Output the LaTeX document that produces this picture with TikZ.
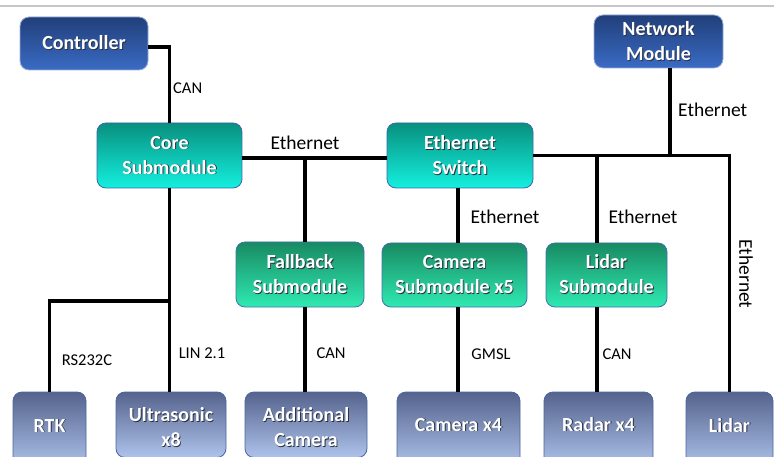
\documentclass[tikz,border=0pt]{standalone}
\usepackage{fontspec}
\setmainfont{Carlito}

% box fills (top / bottom of the vertical gradient) and outlines
\definecolor{ctrlTop}{HTML}{213F7A}
\definecolor{ctrlBot}{HTML}{3A6BC4}
\definecolor{ctrlEdge}{HTML}{9AAED6}
\definecolor{coreTop}{HTML}{08907F}
\definecolor{coreBot}{HTML}{14F0DF}
\definecolor{coreEdge}{HTML}{3A68A8}
\definecolor{subTop}{HTML}{188A62}
\definecolor{subBot}{HTML}{2FEAB2}
\definecolor{subEdge}{HTML}{4470AE}
\definecolor{devTop}{HTML}{55638D}
\definecolor{devBot}{HTML}{AEC3EB}
\definecolor{devEdge}{HTML}{4A66A0}
\definecolor{txtShadow}{HTML}{2A3040}

% white box text with a small dark drop shadow
\newcommand\shd[1]{\leavevmode\rlap{\kern0.9pt\raisebox{-0.9pt}{\color{txtShadow}#1}}#1}

\begin{document}
\begin{tikzpicture}[x=1pt,y=-1pt,
  box/.style={rounded corners=9pt, line width=0.8pt, text=white,
    font=\fontsize{20}{25}\selectfont\bfseries, align=center, inner sep=0pt},
  ctrlbox/.style={box, top color=ctrlTop, bottom color=ctrlBot, draw=ctrlEdge},
  corebox/.style={box, top color=coreTop, bottom color=coreBot, draw=coreEdge},
  subbox/.style={box, top color=subTop, bottom color=subBot, draw=subEdge},
  devbox/.style={box, top color=devTop, bottom color=devBot, draw=devEdge,
    anchor=base, text depth=36pt},
  bus/.style={line width=3.8pt, black},
  lbl/.style={font=\fontsize{19.5}{22}\selectfont, inner sep=0pt},
  slbl/.style={font=\fontsize{16.5}{19}\selectfont, inner sep=0pt}]

\useasboundingbox (0,0) rectangle (774,457);
\clip (0,0) rectangle (774,457);

% thin rule across the top
\draw[black!22, line width=1.5pt] (0,6) -- (774,6);

% control level
\node[ctrlbox, minimum width=128pt, minimum height=53pt] (ctrl) at (84,43.5) {\shd{Controller}};
\node[ctrlbox, minimum width=129pt, minimum height=53pt] (net) at (658.5,41.5) {\shd{Network}\\\shd{Module}};

% core level
\node[corebox, minimum width=145pt, minimum height=65pt] (core) at (169.5,155.5) {\shd{Core}\\\shd{Submodule}};
\node[corebox, minimum width=146pt, minimum height=65pt] (switch) at (460,155.5) {\shd{Ethernet}\\\shd{Switch}};

% submodules
\node[subbox, minimum width=128pt, minimum height=65pt] (fallback) at (300,274.5) {\shd{Fallback}\\\shd{Submodule}};
\node[subbox, minimum width=145pt, minimum height=64pt] (camsub) at (454.5,275) {\shd{Camera}\\\shd{Submodule x5}};
\node[subbox, minimum width=121pt, minimum height=64pt] (lidsub) at (606.5,275) {\shd{Lidar}\\\shd{Submodule}};

% devices (boxes run off the bottom edge)
\node[devbox, minimum width=73pt, text height=40pt] (rtk) at (49.5,432) {\shd{RTK}};
\node[devbox, minimum width=110pt, text height=29.5pt] (ultra) at (171,421.5)
  {\begin{tabular}[t]{@{}c@{}}\shd{Ultrasonic}\\\shd{x8}\end{tabular}};
\node[devbox, minimum width=122pt, text height=29.5pt] (addcam) at (306,421.5)
  {\begin{tabular}[t]{@{}c@{}}\shd{Additional}\\\shd{Camera}\end{tabular}};
\node[devbox, minimum width=123pt, text height=39pt] (camx) at (458.5,431) {\shd{Camera x4}};
\node[devbox, minimum width=109pt, text height=39pt] (radar) at (598.5,431) {\shd{Radar x4}};
\node[devbox, minimum width=87pt, text height=40pt] (lidar) at (729.5,432) {\shd{Lidar}};

% junction points on the buses
\coordinate (jFb) at (305,158);
\coordinate (jNet) at (670,155);
\coordinate (jCam) at (458,155);
\coordinate (jLid) at (597,155);
\coordinate (jRtk) at (170,301);

% connectors
\draw[bus] ([yshift=-3.5pt]ctrl.east) -| (core.north);
\draw[bus] ([yshift=-2.5pt]core.east) -- ([yshift=-2.5pt]switch.west);
\draw[bus] (jFb) -- (jFb |- fallback.north);
\draw[bus] (jFb |- fallback.south) -- (jFb |- addcam.north);
\draw[bus] (switch.east) -| (lidar.north);
\draw[bus] (jNet |- net.south) -- (jNet);
\draw[bus] (switch.south -| jCam) -- (camsub.north -| jCam);
\draw[bus] (camsub.south -| jCam) -- (camx.north -| jCam);
\draw[bus] (jLid) -- (jLid |- lidsub.north);
\draw[bus] (jLid |- lidsub.south) -- (jLid |- radar.north);
\draw[bus] (core.south) -- (core.south |- ultra.north);
\draw[bus] (jRtk) -| (rtk.north);

% link labels
\node[slbl, anchor=west] (lCan1) at (173,88) {CAN};
\node[lbl] (lEth1) at (305,143) {Ethernet};
\node[lbl, anchor=west] (lEth2) at (678,110) {Ethernet};
\node[lbl] (lEth3) at (505,217) {Ethernet};
\node[lbl] (lEth4) at (643,217) {Ethernet};
\node[lbl, rotate=-90] (lEth5) at (746,274) {Ethernet};
\node[slbl] (lRs) at (87,360) {RS232C};
\node[slbl] (lLin) at (202,353) {LIN 2.1};
\node[slbl] (lCan2) at (331,353) {CAN};
\node[slbl] (lGmsl) at (491,354) {GMSL};
\node[slbl] (lCan3) at (617,354) {CAN};
\end{tikzpicture}
\end{document}
